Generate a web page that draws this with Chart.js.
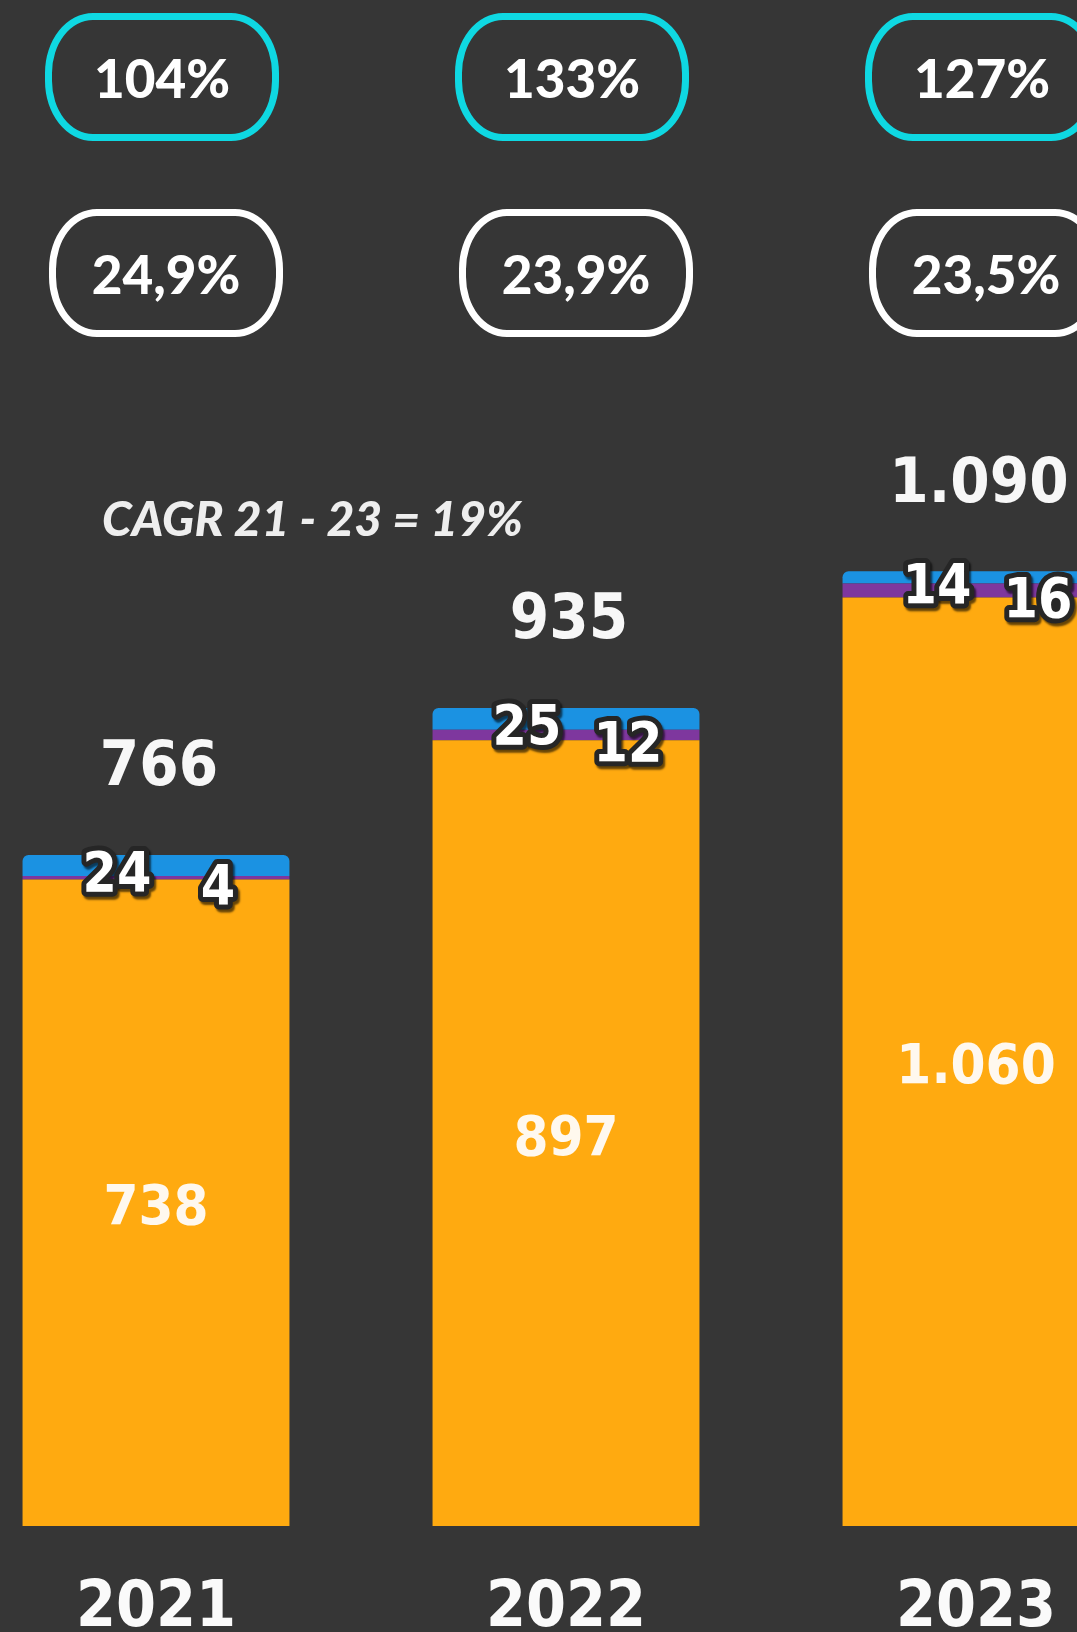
<!DOCTYPE html>
<html>
<head>
<meta charset="utf-8">
<script src="https://cdn.jsdelivr.net/npm/chart.js@4.4.1/dist/chart.umd.min.js"></script>
<style>
  html, body { margin: 0; padding: 0; background: #363636; }
  #wrap { position: relative; width: 1077px; height: 1632px; overflow: hidden; background: #363636; }
  #chartBox { position: absolute; left: -49px; top: 0; width: 1230px; height: 1692px; }
  .badge {
    position: absolute; box-sizing: border-box; width: 234px; height: 128px;
    border: 7px solid #fff; border-radius: 48px / 60px;
    display: flex; align-items: center; justify-content: center;
    font-family: Lato, sans-serif; font-weight: 900; font-size: 53px; color: #fff;
    transform: translate(-50%, -50%); line-height: 1;
  }
  .badge.cyan { border-color: #0fd8e2; }
  #cagr {
    position: absolute; left: 102px; top: 494px;
    font-family: Lato, sans-serif; font-weight: 900; font-style: italic;
    font-size: 48px; line-height: 1; color: #eeeeee; white-space: nowrap;
  }
</style>
</head>
<body>
<div id="wrap">
  <div id="chartBox"><canvas id="revChart" width="1230" height="1692"></canvas></div>
  <div id="cagr">CAGR 21 - 23 = 19%</div>
</div>
<script>
// data
const years = ['2021', '2022', '2023'];
const mainValues = [738, 897, 1060];     // orange
const purpleValues = [4, 12, 16];        // purple
const blueValues = [24, 25, 14];         // blue (top)
const totals = [766, 935, 1090];
const ratioBadges = ['104%', '133%', '127%'];
const shareBadges = ['24,9%', '23,9%', '23,5%'];

const fmt = n => String(n).replace(/\B(?=(\d{3})+(?!\d))/g, '.');

const labelFont = 'bold 56px "DejaVu Sans Condensed", "DejaVu Sans", sans-serif';
const totalFont = 'bold 63px "DejaVu Sans Condensed", "DejaVu Sans", sans-serif';
const smallFont = 'bold 55px "DejaVu Sans Condensed", "DejaVu Sans", sans-serif';

const barLabels = {
    id: 'barLabels',
    afterDatasetsDraw(chart) {
        const ctx = chart.ctx;
        const orange = chart.getDatasetMeta(0).data;
        const purple = chart.getDatasetMeta(1).data;
        const blue = chart.getDatasetMeta(2).data;
        ctx.save();
        ctx.textAlign = 'center';
        ctx.textBaseline = 'middle';

        // value inside the orange segment
        ctx.font = labelFont;
        ctx.fillStyle = '#fff8ee';
        orange.forEach((bar, i) => {
            ctx.fillText(fmt(mainValues[i]), bar.x, (bar.y + bar.base) / 2 + 7);
        });

        // totals above the bars
        ctx.font = totalFont;
        ctx.fillStyle = '#f7f7f7';
        blue.forEach((bar, i) => {
            ctx.fillText(fmt(totals[i]), bar.x + 3, bar.y - 86);
        });

        // small outlined labels for the thin segments
        ctx.font = smallFont;
        ctx.lineJoin = 'round';
        const outlined = (txt, x, y) => {
            ctx.save();
            ctx.shadowColor = 'rgba(0,0,0,0.6)';
            ctx.shadowOffsetX = 2;
            ctx.shadowOffsetY = 3;
            ctx.shadowBlur = 2;
            ctx.lineWidth = 10;
            ctx.strokeStyle = '#262626';
            ctx.strokeText(txt, x, y);
            ctx.restore();
            ctx.fillStyle = '#ffffff';
            ctx.fillText(txt, x, y);
        };
        blue.forEach((bar, i) => {
            outlined(String(blueValues[i]), bar.x - 39, (bar.y + bar.base) / 2 + 11);
        });
        purple.forEach((bar, i) => {
            outlined(String(purpleValues[i]), bar.x + 62, (bar.y + bar.base) / 2 + 12);
        });
        ctx.restore();
    }
};

const chart = new Chart(document.getElementById('revChart').getContext('2d'), {
    type: 'bar',
    data: {
        labels: years,
        datasets: [{
            data: mainValues,
            backgroundColor: '#ffaa10',
        }, {
            data: purpleValues,
            backgroundColor: '#7e379e',
        }, {
            data: blueValues,
            backgroundColor: '#1b92e2',
            borderRadius: { topLeft: 6, topRight: 6, bottomLeft: 0, bottomRight: 0 },
            borderSkipped: 'start',
        }]
    },
    options: {
        responsive: false,
        animation: false,
        layout: { padding: { top: 37, bottom: 0, left: 0, right: 0 } },
        plugins: { legend: { display: false }, tooltip: { enabled: false } },
        datasets: { bar: { categoryPercentage: 1, barPercentage: 0.651 } },
        scales: {
            x: {
                stacked: true,
                grid: { display: false, drawTicks: false },
                border: { display: false },
                ticks: {
                    color: '#fafafa',
                    padding: 51,
                    font: { family: '"DejaVu Sans Condensed", "DejaVu Sans", sans-serif', size: 64, weight: 'bold', lineHeight: 1 }
                }
            },
            y: {
                stacked: true,
                display: false,
                min: 0,
                max: 1700
            }
        }
    },
    plugins: [barLabels]
});

// badges placed over each category
const wrap = document.getElementById('wrap');
const boxLeft = -49;
years.forEach((y, i) => {
    const cx = chart.scales.x.getPixelForValue(i) + boxLeft;
    const a = document.createElement('div');
    a.className = 'badge cyan';
    a.textContent = ratioBadges[i];
    a.style.left = (cx + 6) + 'px';
    a.style.top = '77px';
    wrap.appendChild(a);
    const b = document.createElement('div');
    b.className = 'badge';
    b.textContent = shareBadges[i];
    b.style.left = (cx + 10) + 'px';
    b.style.top = '273px';
    wrap.appendChild(b);
});
</script>
</body>
</html>
